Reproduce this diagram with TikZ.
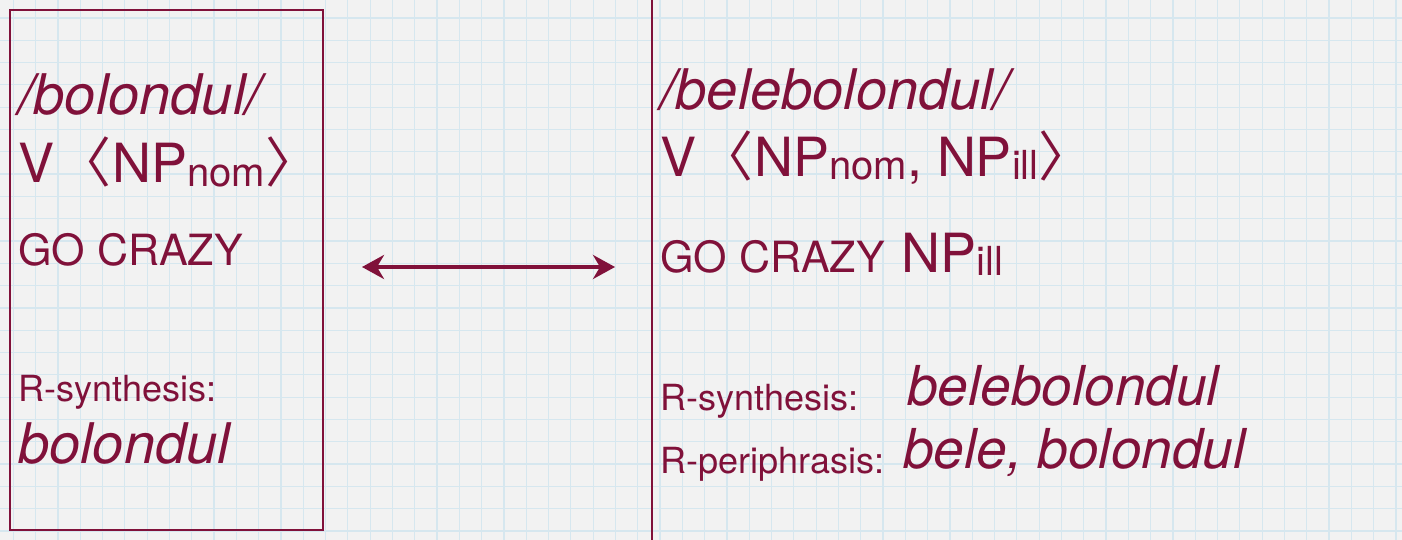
\documentclass[tikz,border=0pt]{standalone}
\usepackage{fontspec}
\setmainfont{TeX Gyre Heros}
\newfontfamily\cjk{Noto Sans CJK SC}
\usetikzlibrary{arrows.meta}

\definecolor{wine}{RGB}{128,17,58}
\definecolor{gridblue}{RGB}{214,231,239}
\definecolor{paper}{RGB}{242,242,242}

\newcommand{\sz}[1]{\fontsize{#1}{#1}\selectfont}
\newcommand{\lowsub}[1]{\raisebox{-3pt}{\sz{40}#1}}
\newcommand{\lbr}{\hspace{3pt}{\cjk 〈}\hspace{1pt}}
\newcommand{\rbr}{{\cjk 〉}}

\tikzstyle{entry}=[anchor=base west,
                   inner sep=0pt,
                   text=wine]
\tikzstyle{frameline}=[draw=wine,
                       line width=2pt]

\begin{document}
\begin{tikzpicture}[x=1pt,y=-1pt]
    \fill[paper] (0,0) rectangle (1402,540);
    \useasboundingbox (0,0) rectangle (1402,540);
    % graph paper
    \foreach \g in {0,...,62}
        \draw[gridblue, line width=1.2pt] (13.3+22.3*\g,0) -- ++(0,540);
    \foreach \g in {0,...,24}
        \draw[gridblue, line width=1.2pt] (0,18+22.3*\g) -- ++(1402,0);

    % left entry
    \draw[frameline] (10,10) rectangle (323,530);
    \node[entry] (lemmaL) at (18,115) {\sz{56}\itshape /bolondul/};
    \node[entry] (frameL) at (18,183) {\sz{54}V\lbr NP\lowsub{nom}\rbr};
    \node[entry] (meanL) at (18,265) {\sz{43}GO CRAZY};
    \node[entry] (synthL) at (18,401) {\sz{36}R-synthesis:};
    \node[entry] (formL) at (18,463) {\sz{56}\itshape bolondul};

    % right entry
    \draw[frameline] (652,0) -- (652,540);
    \node[entry] (lemmaR) at (660,110) {\sz{56}\itshape /belebolondul/};
    \node[entry] (frameR) at (660,177) {\sz{54}V\lbr NP\lowsub{nom}, NP\lowsub{ill}\rbr};
    \node[entry] (meanR) at (660,272) {\sz{43}GO CRAZY\hspace{5pt} \sz{54}NP\lowsub{ill}};
    \node[entry] (synthR) at (660,410) {\sz{36}R-synthesis:};
    \node[entry] (formR) at (907,405) {\sz{55}\itshape belebolondul};
    \node[entry] (periR) at (660,473) {\sz{36}R-periphrasis:};
    \node[entry] (formP) at (903,468) {\sz{55}\itshape bele, bolondul};

    \coordinate (arrowL) at (362,267);
    \coordinate (arrowR) at (615,267);
    \draw[wine, line width=4pt,
          {Stealth[length=22pt,width=24pt,inset=7pt]}-{Stealth[length=22pt,width=24pt,inset=7pt]}]
        (arrowL) -- (arrowR);
\end{tikzpicture}
\end{document}
